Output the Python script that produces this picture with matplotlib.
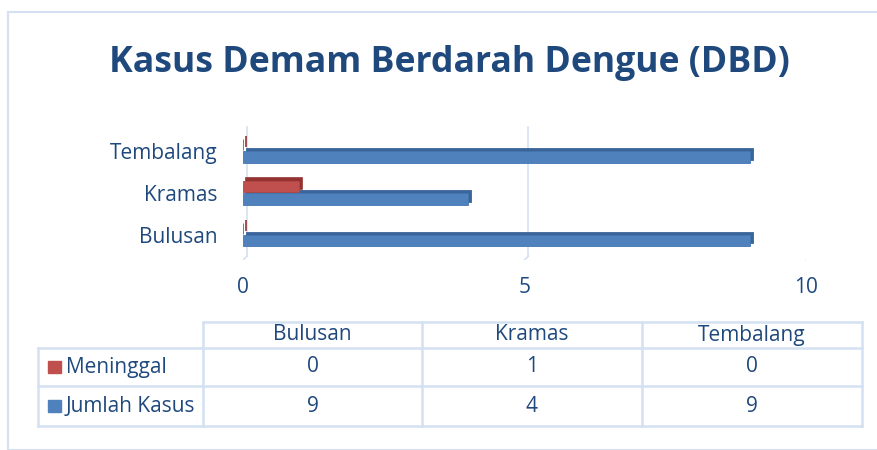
import matplotlib.pyplot as plt
from matplotlib.patches import Rectangle
from matplotlib.transforms import offset_copy

# Datos del gráfico
categorias = ['Bulusan', 'Kramas', 'Tembalang']
meninggal = [0, 1, 0]
jumlah_kasus = [9, 4, 9]
series = ['Meninggal', 'Jumlah Kasus']
ticks_x = [0, 5, 10]

plt.rcParams['font.family'] = ['Open Sans', 'DejaVu Sans']
color_texto = '#1F497D'
color_azul = '#4F81BD'
color_rojo = '#C0504D'
color_borde = '#D4E1F2'

W, H = 878, 450
fig = plt.figure(figsize=(W / 100, H / 100), dpi=100)

# Marco exterior
fig.add_artist(Rectangle((8 / W, 0), 1.0, (H - 12) / H, transform=fig.transFigure,
                         fill=False, edgecolor=color_borde, linewidth=1.5))

fig.text(449 / W, 1 - 63 / H, 'Kasus Demam Berdarah Dengue (DBD)', ha='center', va='center',
         fontsize=25.7, fontweight='bold', color=color_texto)

# Área del gráfico (plano frontal)
x0, x1 = 243, 806
ytop, ybot = 126, 260
ax = fig.add_axes([x0 / W, 1 - ybot / H, (x1 - x0) / W, (ybot - ytop) / H])
ax.set_xlim(0, 10)
ax.set_ylim(-0.6, 2.6)
for s in ax.spines.values():
    s.set_visible(False)

# Líneas de cuadrícula en el plano trasero con la diagonal del piso
prof = 4
atras = offset_copy(ax.transData, fig, x=prof, y=prof, units='dots')
dx = prof * 10 / (x1 - x0)
dy = prof * 3.2 / (ybot - ytop)
for t in ticks_x:
    ax.plot([t, t], [-0.6, 2.6], color=color_borde, linewidth=1.2, transform=atras, zorder=0)
    ax.plot([t - dx, t], [-0.6 - dy, -0.6], color=color_borde, linewidth=1.2, transform=atras, zorder=0)

pos = list(range(len(categorias)))
alto = 0.27
y_azul = [p - 0.14 for p in pos]
y_rojo = [p + 0.16 for p in pos]

# Barras 3D: una copia oscura desplazada y la cara frontal encima
ax.barh(y_azul, jumlah_kasus, height=alto, color='#3A6598', edgecolor='#3A6598',
        linewidth=0.6, transform=offset_copy(ax.transData, fig, x=3, y=3, units='dots'), zorder=2)
ax.barh(y_azul, jumlah_kasus, height=alto, color=color_azul, edgecolor='#4575B0',
        linewidth=0.6, zorder=3)
ax.barh(y_rojo, meninggal, height=alto, color='#933230', edgecolor='#933230',
        linewidth=1.2, transform=offset_copy(ax.transData, fig, x=3, y=3, units='dots'), zorder=2)
ax.barh(y_rojo, meninggal, height=alto, color=color_rojo, edgecolor='#B04744',
        linewidth=0.6, zorder=3)

ax.set_yticks(pos)
ax.set_yticklabels(categorias, fontsize=15, color=color_texto)
ax.set_xticks(ticks_x)
ax.set_xticklabels([str(t) for t in ticks_x], fontsize=15, color=color_texto)
ax.tick_params(length=0, pad=18, axis='y')
ax.tick_params(length=0, pad=12, axis='x')
ax.set_facecolor('none')

# Tabla de datos
tx = [38, 203, 422, 642, 862]
ty = [322, 348, 386, 426]
tab = fig.add_axes([0, 0, 1, 1])
tab.set_xlim(0, W)
tab.set_ylim(H, 0)
tab.axis('off')
lw = 1.8
tab.plot([tx[1], tx[-1]], [ty[0], ty[0]], color=color_borde, linewidth=lw)
for yy in ty[1:]:
    tab.plot([tx[0], tx[-1]], [yy, yy], color=color_borde, linewidth=lw)
tab.plot([tx[0], tx[0]], [ty[1], ty[-1]], color=color_borde, linewidth=lw)
for xx in tx[1:]:
    tab.plot([xx, xx], [ty[0], ty[-1]], color=color_borde, linewidth=lw)

for j, cat in enumerate(categorias):
    cx = (tx[j + 1] + tx[j + 2]) / 2
    tab.text(cx, (ty[0] + ty[1]) / 2, cat, ha='center', va='center', fontsize=15, color=color_texto)
    for i, vals in enumerate([meninggal, jumlah_kasus]):
        tab.text(cx, (ty[i + 1] + ty[i + 2]) / 2, str(vals[j]), ha='center', va='center',
                 fontsize=15, color=color_texto)

for i, (nombre, col) in enumerate(zip(series, [color_rojo, color_azul])):
    cy = (ty[i + 1] + ty[i + 2]) / 2
    tab.add_patch(Rectangle((48, cy - 6), 13, 12, color=col))
    tab.text(66, cy, nombre, ha='left', va='center', fontsize=15, color=color_texto)

fig.savefig('out.png', dpi=100)
